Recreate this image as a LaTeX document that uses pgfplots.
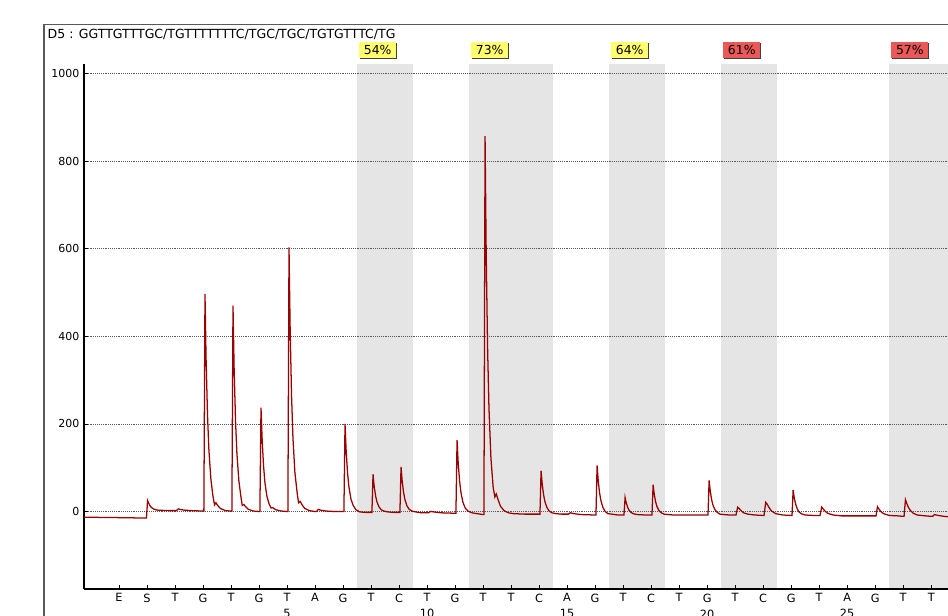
\documentclass[border=0pt]{standalone}
\usepackage{fontspec}
\setmainfont{DejaVu Sans}
\usepackage{pgfplots}
\pgfplotsset{compat=1.18}

\definecolor{trace}{RGB}{155,0,0}
\definecolor{band}{RGB}{229,229,229}
\definecolor{ok}{RGB}{255,255,110}
\definecolor{bad}{RGB}{234,88,88}

\newcommand{\pct}[3]{% x position, fill, text
  \node[fill=black!75, minimum width=27.5pt, minimum height=12pt, inner sep=0pt, anchor=south west,
        xshift=2.25pt, yshift=3.75pt] at (axis cs:#1,1022) {};
  \node[fill=#2, minimum width=27.5pt, minimum height=12pt, inner sep=0pt, anchor=south west,
        xshift=1.5pt, yshift=4.5pt, font=\fontsize{9.3}{10}\selectfont] at (axis cs:#1,1022) {#3};
}

\begin{document}
\begin{tikzpicture}
\begin{axis}[
  set layers,
  scale only axis, width=648pt, height=393.75pt,
  at={(0,0)}, anchor=south west,
  xmin=-2.25, xmax=28.6, ymin=-177, ymax=1022,
  axis lines*=left, axis line style={black, line width=0.9pt},
  tick align=inside, major tick length=3pt, tick style={black, line width=0.6pt},
  xtick={-1,0,...,28},
  xticklabels={E,S,T,G,T,G,{T\\5},A,G,T,C,{T\\10},G,T,T,C,{A\\15},G,T,C,T,{G\\20},T,C,G,T,{A\\25},G,T,T},
  xticklabel style={align=center, font=\fontsize{8.5}{12}\selectfont},
  ytick={0,200,400,600,800,1000},
  yticklabel style={font=\fontsize{8.25}{10}\selectfont},
  /pgf/number format/assume math mode=true,
  /pgf/number format/1000 sep={},
  ymajorgrids, grid style={densely dotted, black!65, line width=0.5pt},
  clip=false,
]
\begin{pgfonlayer}{axis background}
\fill[band] (axis cs:7.5,-177) rectangle (axis cs:9.5,1022);
\fill[band] (axis cs:11.5,-177) rectangle (axis cs:14.5,1022);
\fill[band] (axis cs:16.5,-177) rectangle (axis cs:18.5,1022);
\fill[band] (axis cs:20.5,-177) rectangle (axis cs:22.5,1022);
\fill[band] (axis cs:26.5,-177) rectangle (axis cs:28.6,1022);
\end{pgfonlayer}

\addplot[trace, line width=0.95pt] coordinates {
(-2.25,-13) (-1.0,-14) (-0.02,-15)
(0.02,25) (0.06,19) (0.11,13) (0.16,9) (0.23,6) (0.31,4) (0.41,3) (0.6,2.5) (0.8,2) (1.0,2)
(1.05,2) (1.12,6) (1.2,4.5) (1.35,3) (1.6,2) (1.98,1)
(2.03,1) (2.07,497) (2.11,346) (2.16,220) (2.21,140) (2.28,74) (2.35,37) (2.41,15) (2.46,20) (2.52,14) (2.62,7) (2.8,2) (3.0,1)
(3.03,1) (3.07,470) (3.11,327) (3.16,208) (3.21,132) (3.28,70) (3.35,35) (3.40,14) (3.46,16) (3.52,11) (3.62,5) (3.8,1) (4.0,0)
(4.03,0) (4.07,237) (4.11,165) (4.16,105) (4.21,66) (4.28,35) (4.36,17) (4.43,8) (4.48,9) (4.6,4) (4.8,1) (5.0,0)
(5.03,0) (5.07,603) (5.11,419) (5.16,266) (5.21,169) (5.28,89) (5.36,43) (5.41,20) (5.47,23) (5.53,16) (5.63,7) (5.8,2) (6.0,0)
(6.05,0) (6.12,5) (6.2,3) (6.4,1) (6.7,0) (7.0,0)
(7.03,0) (7.07,200) (7.11,139) (7.16,88) (7.21,56) (7.28,29) (7.36,14) (7.46,4) (7.6,-1) (7.8,-2) (8.0,-2)
(8.03,-2) (8.07,85) (8.11,58) (8.16,36) (8.21,22) (8.28,11) (8.36,4) (8.46,1) (8.6,-1) (8.8,-2) (9.0,-2)
(9.03,-2) (9.07,102) (9.11,70) (9.16,44) (9.21,27) (9.28,13) (9.36,5) (9.46,1) (9.6,-1) (9.8,-3) (10.0,-3)
(10.05,-3) (10.12,0) (10.25,-1) (10.5,-3) (11.0,-4)
(11.03,-4) (11.07,163) (11.11,112) (11.16,70) (11.21,43) (11.28,21) (11.36,8) (11.46,1) (11.6,-3) (11.8,-5) (12.0,-7)
(12.03,-7) (12.07,857) (12.11,593) (12.16,374) (12.21,235) (12.28,121) (12.36,55) (12.42,33) (12.47,40) (12.53,28) (12.62,12) (12.75,2) (12.9,-3) (13.1,-5) (13.5,-6) (14.0,-6)
(14.03,-6) (14.07,93) (14.11,63) (14.16,38) (14.21,22) (14.28,9) (14.36,1) (14.46,-3) (14.6,-5) (14.8,-6) (15.0,-6)
(15.05,-6) (15.12,-3) (15.25,-5) (15.5,-7) (16.0,-8)
(16.03,-8) (16.07,105) (16.11,71) (16.16,42) (16.21,24) (16.28,9) (16.36,0) (16.46,-5) (16.6,-6) (16.8,-8) (17.0,-8)
(17.03,-8) (17.07,32) (17.11,20) (17.16,10) (17.21,3) (17.28,-2) (17.36,-5) (17.5,-7) (17.8,-8) (18.0,-8)
(18.03,-8) (18.07,61) (18.11,40) (18.16,22) (18.21,11) (18.28,2) (18.36,-3) (18.46,-6) (18.6,-7) (18.8,-8) (19.5,-8) (20.0,-8)
(20.03,-8) (20.07,71) (20.11,47) (20.16,27) (20.21,14) (20.28,4) (20.36,-2) (20.46,-6) (20.6,-7) (20.8,-8) (21.0,-8)
(21.03,-8) (21.09,10) (21.14,7) (21.21,2) (21.3,-3) (21.45,-6) (21.7,-8) (22.0,-9)
(22.03,-9) (22.09,21) (22.14,17) (22.21,9) (22.3,1) (22.45,-5) (22.7,-8) (23.0,-9)
(23.03,-9) (23.07,49) (23.11,31) (23.16,17) (23.21,7) (23.28,-1) (23.36,-5) (23.5,-8) (23.8,-9) (24.0,-9)
(24.03,-9) (24.09,10) (24.14,6) (24.21,1) (24.3,-4) (24.5,-8) (24.8,-10) (25.5,-10) (26.0,-10)
(26.03,-10) (26.08,11) (26.13,6) (26.2,0) (26.3,-5) (26.5,-9) (26.8,-10) (27.0,-11)
(27.03,-11) (27.08,27) (27.13,18) (27.19,9) (27.26,2) (27.36,-4) (27.5,-8) (27.8,-10) (28.0,-11)
(28.05,-11) (28.12,-7) (28.25,-9) (28.45,-11) (28.6,-12)
};

\pct{7.5}{ok}{54\%}
\pct{11.5}{ok}{73\%}
\pct{16.5}{ok}{64\%}
\pct{20.5}{bad}{61\%}
\pct{26.5}{bad}{57\%}
\end{axis}

% outer frame and header
\draw[black!65, line width=1pt] (-30pt,-30pt) -- (-30pt,423.4pt) -- (660pt,423.4pt);
\node[anchor=base west, inner sep=0pt, font=\fontsize{9.4}{10}\selectfont] at (-27.4pt,413pt)
  {D5 : GGTTGTTTGC/TGTTTTTTTC/TGC/TGC/TGTGTTTC/TG};

\pgfresetboundingbox
\useasboundingbox (-63pt,-19.5pt) rectangle (648pt,441.75pt);
\end{tikzpicture}
\end{document}
